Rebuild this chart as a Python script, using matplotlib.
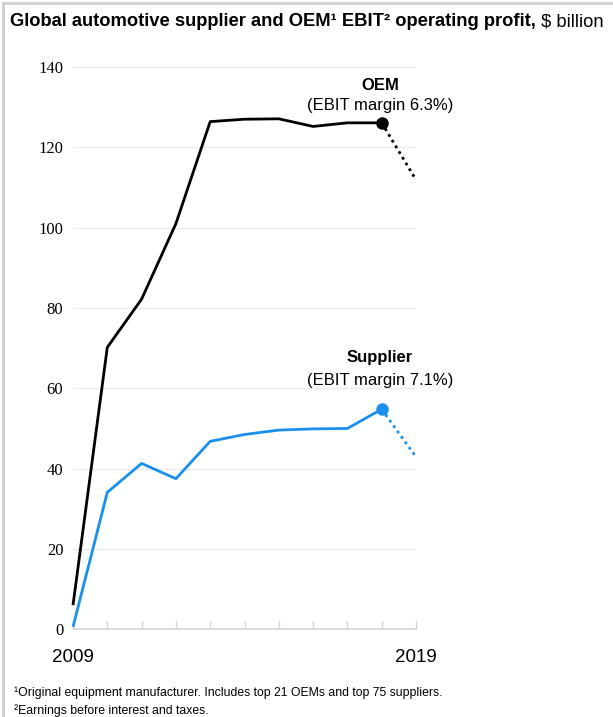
import matplotlib.pyplot as plt
from matplotlib.lines import Line2D

# values, $ billion
years = [2009, 2010, 2011, 2012, 2013, 2014, 2015, 2016, 2017, 2018, 2019]
oem = [6.0, 70.2, 82.2, 101.0, 126.4, 127.0, 127.1, 125.2, 126.1, 126.1, 111.9]
supplier = [0.6, 34.1, 41.3, 37.5, 46.8, 48.5, 49.6, 49.9, 50.0, 54.8, 42.9]
y_ticks = [0, 20, 40, 60, 80, 100, 120, 140]

BLUE = "#1a90ec"
plt.rcParams["font.family"] = ["Liberation Sans", "DejaVu Sans"]

W, H = 613, 717
fig = plt.figure(figsize=(W / 100, H / 100), dpi=100)
ax = fig.add_axes([73 / W, 1 - 629.3 / H, (416 - 73) / W, (629.3 - 67) / H])

# solid history up to 2018, dotted step to 2019
ax.plot(years[:-1], oem[:-1], color="black", lw=2, clip_on=False, solid_capstyle="butt")
ax.plot(years[-2:], oem[-2:], color="black", lw=2, ls=(0, (1, 1.4)), clip_on=False)
ax.plot(years[-2], oem[-2], "o", color="black", ms=8, clip_on=False)

ax.plot(years[:-1], supplier[:-1], color=BLUE, lw=2, clip_on=False, solid_capstyle="butt")
ax.plot(years[-2:], supplier[-2:], color=BLUE, lw=2, ls=(0, (1, 1.4)), clip_on=False)
ax.plot(years[-2], supplier[-2], "o", color=BLUE, ms=8, clip_on=False)

ax.set_xlim(2009, 2019)
ax.set_ylim(0, 140)
ax.set_yticks(y_ticks)
ax.set_yticklabels([str(v) for v in y_ticks], family="Liberation Serif", fontsize=12)
for v in y_ticks[1:]:
    ax.axhline(v, color="#ebebeb", lw=1, zorder=0)

ax.set_xticks(years)
ax.set_xticklabels(["2009"] + [""] * 9 + ["2019"], fontsize=13.5)
ax.tick_params(axis="x", direction="in", length=6, color="#d6d6d6", width=1, pad=14)
ax.tick_params(axis="y", length=0, pad=7)
for s in ["top", "right", "left"]:
    ax.spines[s].set_visible(False)
ax.spines["bottom"].set_color("#d6d6d6")
ax.spines["bottom"].set_linewidth(1.2)

# series labels
ax.text(2017.95, 135.5, "OEM", ha="center", va="center", fontsize=12, fontweight="bold")
ax.text(2017.95, 130.3, "(EBIT margin 6.3%)", ha="center", va="center", fontsize=12)
ax.text(2017.95, 67.6, "Supplier", ha="center", va="center", fontsize=12, fontweight="bold")
ax.text(2017.95, 62.0, "(EBIT margin 7.1%)", ha="center", va="center", fontsize=12)

# title: bold part + regular unit
t = fig.text(10 / W, 1 - 22 / H, "Global automotive supplier and OEM\u00b9 EBIT\u00b2 operating profit,",
             fontsize=13.2, fontweight="bold", va="center")
ax.annotate(" $ billion", xy=(1, 0.5), xycoords=t, va="center", fontsize=13.2)

# footnotes
fig.text(14 / W, 1 - 693 / H, "\u00b9Original equipment manufacturer. Includes top 21 OEMs and top 75 suppliers.",
         fontsize=8.8, va="center")
fig.text(14 / W, 1 - 711 / H, "\u00b2Earnings before interest and taxes.", fontsize=8.8, va="center")

# light frame along top and left edges
fig.add_artist(Line2D([3 / W, 1], [1 - 3 / H, 1 - 3 / H], color="#cfcfcf", lw=2))
fig.add_artist(Line2D([3 / W, 3 / W], [0, 1 - 3 / H], color="#cfcfcf", lw=2))

fig.savefig("out.png", dpi=100, facecolor="white")
